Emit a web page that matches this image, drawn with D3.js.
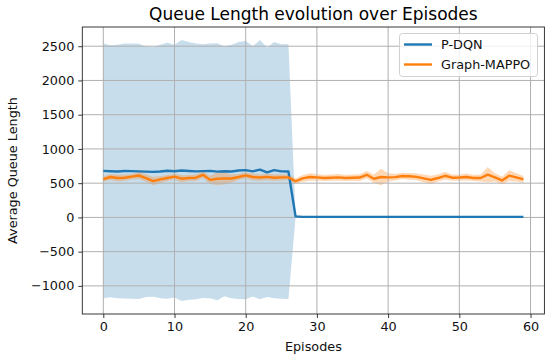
<!DOCTYPE html>
<html>
<head>
<meta charset="utf-8">
<script src="https://cdn.jsdelivr.net/npm/d3@7"></script>
<style>
  body { margin: 0; background: #fff; }
  svg { font-family: "DejaVu Sans", sans-serif; }
</style>
</head>
<body>
<div id="chart"></div>
<script>
// episodes 0..59
var episodes = d3.range(0, 60);

var pdqnMean = [680, 675, 670, 678, 676, 672, 668, 665, 670, 682,
                675, 685, 678, 672, 676, 680, 668, 674, 670, 685,
                690, 672, 698, 658, 690, 672, 670, 15, 8, 8,
                8, 8, 8, 8, 8, 8, 8, 8, 8, 8,
                8, 8, 8, 8, 8, 8, 8, 8, 8, 8,
                8, 8, 8, 8, 8, 8, 8, 8, 8, 8];
var pdqnStd = [1860, 1840, 1850, 1862, 1864, 1863, 1832, 1825, 1850, 1868,
               1845, 1905, 1882, 1868, 1854, 1860, 1877, 1826, 1850, 1875,
               1885, 1828, 1892, 1822, 1870, 1858, 1860, 15, 2, 2,
               2, 2, 2, 2, 2, 2, 2, 2, 2, 2,
               2, 2, 2, 2, 2, 2, 2, 2, 2, 2,
               2, 2, 2, 2, 2, 2, 2, 2, 2, 2];

var mappoMean = [560, 590, 575, 580, 595, 612, 575, 530, 555, 575,
                 596, 565, 575, 580, 622, 548, 565, 570, 568, 590,
                 615, 590, 582, 592, 580, 585, 585, 528, 570, 590,
                 585, 575, 580, 585, 575, 580, 582, 622, 565, 590,
                 585, 588, 605, 600, 592, 570, 548, 575, 608, 580,
                 582, 590, 575, 575, 625, 585, 540, 610, 585, 555];
var mappoStd = [40, 45, 50, 45, 40, 50, 55, 60, 50, 45,
                45, 50, 45, 50, 50, 60, 90, 90, 60, 45,
                45, 50, 45, 50, 45, 45, 40, 40, 50, 55,
                50, 45, 45, 50, 45, 45, 50, 55, 60, 120,
                60, 50, 45, 50, 50, 55, 60, 50, 55, 45,
                45, 50, 45, 50, 110, 60, 55, 80, 60, 50];

var seriesNames = ['P-DQN', 'Graph-MAPPO'];
var colors = ['#1f77b4', '#ff7f0e'];
var xTicks = [0, 10, 20, 30, 40, 50, 60];
var yTicks = [-1000, -500, 0, 500, 1000, 1500, 2000, 2500];

var width = 550;
var height = 358;
var plot_left = 82.3, plot_right = 544.4, plot_top = 27, plot_bottom = 314;
var font_size = '12.8px';

var series = [
    {name: seriesNames[0], mean: pdqnMean, std: pdqnStd, color: colors[0], alpha: 0.25},
    {name: seriesNames[1], mean: mappoMean, std: mappoStd, color: colors[1], alpha: 0.3}
];

// matplotlib-like 5% margins
var x_min = d3.min(episodes), x_max = d3.max(episodes);
var x_pad = (x_max - x_min) * 0.05;
var lows = [], highs = [];
series.forEach(function(s) {
    s.mean.forEach(function(m, i) {
        lows.push(m - s.std[i]);
        highs.push(m + s.std[i]);
    });
});
var y_min = d3.min(lows), y_max = d3.max(highs);
var y_pad = (y_max - y_min) * 0.05;

var x = d3.scaleLinear().domain([x_min - x_pad, x_max + x_pad]).range([plot_left, plot_right]);
var y = d3.scaleLinear().domain([y_min - y_pad, y_max + y_pad]).range([plot_bottom, plot_top]);

var svg = d3.select('#chart')
  .append('svg')
    .attr('width', width)
    .attr('height', height);

svg.append('rect')
    .attr('width', width)
    .attr('height', height)
    .attr('fill', '#fff');

// bands
var area = d3.area()
    .x(function(d) { return x(d.x); })
    .y0(function(d) { return y(d.lo); })
    .y1(function(d) { return y(d.hi); });

series.forEach(function(s) {
    var pts = episodes.map(function(e, i) {
        return {x: e, lo: s.mean[i] - s.std[i], hi: s.mean[i] + s.std[i]};
    });
    svg.append('path')
        .datum(pts)
        .attr('d', area)
        .attr('fill', s.color)
        .attr('fill-opacity', s.alpha)
        .attr('stroke', 'none');
});

// grid
var grid = svg.append('g').attr('class', 'grid');
grid.selectAll('line.x-grid')
    .data(xTicks)
  .enter()
    .append('line')
    .attr('x1', function(d) { return x(d); })
    .attr('x2', function(d) { return x(d); })
    .attr('y1', plot_top)
    .attr('y2', plot_bottom)
    .attr('stroke', '#b0b0b0')
    .attr('stroke-width', 1);
grid.selectAll('line.y-grid')
    .data(yTicks)
  .enter()
    .append('line')
    .attr('x1', plot_left)
    .attr('x2', plot_right)
    .attr('y1', function(d) { return y(d); })
    .attr('y2', function(d) { return y(d); })
    .attr('stroke', '#b0b0b0')
    .attr('stroke-width', 1);

// mean lines
var line = d3.line()
    .x(function(d, i) { return x(episodes[i]); })
    .y(function(d) { return y(d); });

series.forEach(function(s) {
    svg.append('path')
        .datum(s.mean)
        .attr('d', line)
        .attr('fill', 'none')
        .attr('stroke', s.color)
        .attr('stroke-width', 2.4)
        .attr('stroke-linejoin', 'round');
});

// axes
var xAxis = d3.axisBottom(x).tickValues(xTicks).tickFormat(d3.format('d')).tickSize(4).tickPadding(3.5);
var yAxis = d3.axisLeft(y).tickValues(yTicks).tickFormat(d3.format('d')).tickSize(4).tickPadding(4);

var gx = svg.append('g')
    .attr('transform', 'translate(0,' + plot_bottom + ')')
    .call(xAxis);
var gy = svg.append('g')
    .attr('transform', 'translate(' + plot_left + ',0)')
    .call(yAxis);

[gx, gy].forEach(function(g) {
    g.select('.domain').remove();
    g.selectAll('text')
        .attr('font-family', '"DejaVu Sans", sans-serif')
        .attr('font-size', font_size)
        .attr('fill', '#111');
    g.selectAll('line').attr('stroke', '#222').attr('stroke-width', 0.9);
});

// frame
svg.append('rect')
    .attr('x', plot_left)
    .attr('y', plot_top)
    .attr('width', plot_right - plot_left)
    .attr('height', plot_bottom - plot_top)
    .attr('fill', 'none')
    .attr('stroke', '#222')
    .attr('stroke-width', 0.9);

// title + axis labels
svg.append('text')
    .text('Queue Length evolution over Episodes')
    .attr('x', (plot_left + plot_right) / 2)
    .attr('y', 19.5)
    .attr('text-anchor', 'middle')
    .attr('font-size', '17px')
    .attr('fill', '#000');

svg.append('text')
    .text('Episodes')
    .attr('x', (plot_left + plot_right) / 2)
    .attr('y', 351)
    .attr('text-anchor', 'middle')
    .attr('font-size', font_size)
    .attr('fill', '#111');

svg.append('text')
    .text('Average Queue Length')
    .attr('transform', 'translate(16.5,' + ((plot_top + plot_bottom) / 2) + ') rotate(-90)')
    .attr('text-anchor', 'middle')
    .attr('font-size', font_size)
    .attr('fill', '#111');

// legend
var leg = svg.append('g');
leg.append('rect')
    .attr('x', 399.5)
    .attr('y', 33.5)
    .attr('width', 138)
    .attr('height', 43)
    .attr('rx', 3)
    .attr('fill', '#fff')
    .attr('fill-opacity', 0.8)
    .attr('stroke', '#d0d0d0')
    .attr('stroke-width', 1);

leg.selectAll('line.legend')
    .data(series)
  .enter()
    .append('line')
    .attr('x1', 404)
    .attr('x2', 432)
    .attr('y1', function(d, i) { return 44.5 + i * 20; })
    .attr('y2', function(d, i) { return 44.5 + i * 20; })
    .attr('stroke', function(d) { return d.color; })
    .attr('stroke-width', 2.4);

leg.selectAll('text.legend')
    .data(series)
  .enter()
    .append('text')
    .text(function(d) { return d.name; })
    .attr('x', 441)
    .attr('y', function(d, i) { return 49 + i * 20; })
    .attr('font-size', font_size)
    .attr('fill', '#111');
</script>
</body>
</html>
